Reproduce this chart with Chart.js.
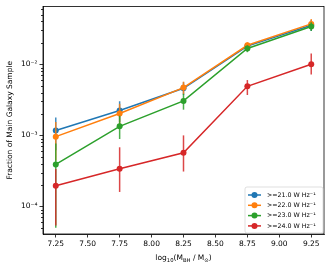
<!DOCTYPE html>
<html>
<head>
<meta charset="utf-8">
<script src="https://cdn.jsdelivr.net/npm/chart.js@4.4.1/dist/chart.umd.min.js"></script>
<style>
  html, body { margin: 0; padding: 0; background: #fff; }
  #wrap { width: 332px; height: 268px; position: relative; }
</style>
</head>
<body>
<div id="wrap"><canvas id="fracChart" width="332" height="268"></canvas></div>
<script>
//========================
// Data
//========================
const massBins = [7.25, 7.75, 8.25, 8.75, 9.25];
const xTicks = [7.25, 7.5, 7.75, 8.0, 8.25, 8.5, 8.75, 9.0, 9.25];
const yTicks = [1e-4, 1e-3, 1e-2];
const yTickLabels = ['10⁻⁴', '10⁻³', '10⁻²'];

const seriesLabels = ['>=21.0 W Hz⁻¹', '>=22.0 W Hz⁻¹', '>=23.0 W Hz⁻¹', '>=24.0 W Hz⁻¹'];
const seriesColors = ['#1f77b4', '#ff7f0e', '#2ca02c', '#d62728'];

const frac21 = [1.17e-3, 2.24e-3, 4.6e-3, 0.0180, 0.0355];
const frac22 = [9.6e-4, 2.03e-3, 4.7e-3, 0.0185, 0.0370];
const frac23 = [3.9e-4, 1.34e-3, 3.05e-3, 0.0167, 0.0340];
const frac24 = [1.96e-4, 3.4e-4, 5.7e-4, 4.9e-3, 0.0100];

const errHi21 = [6.1e-4, 7.8e-4, 1.0e-3, 1.9e-3, 6.5e-3];
const errLo21 = [5.5e-4, 7.0e-4, 0.9e-3, 1.8e-3, 6.0e-3];
const errHi22 = [5.8e-4, 7.5e-4, 1.0e-3, 1.9e-3, 6.5e-3];
const errLo22 = [5.2e-4, 6.8e-4, 0.9e-3, 1.8e-3, 6.0e-3];
const errHi23 = [3.8e-4, 5.5e-4, 8.0e-4, 1.8e-3, 5.0e-3];
const errLo23 = [3.4e-4, 4.5e-4, 7.5e-4, 1.9e-3, 4.5e-3];
const errHi24 = [1.4e-4, 3.4e-4, 4.3e-4, 1.1e-3, 4.2e-3];
const errLo24 = [1.42e-4, 1.8e-4, 2.6e-4, 1.2e-3, 2.8e-3];

const allFracs = [frac21, frac22, frac23, frac24];
const allHi = [errHi21, errHi22, errHi23, errHi24];
const allLo = [errLo21, errLo22, errLo23, errLo24];

const FONT = 'DejaVu Sans';

//========================
// Error bars (drawn just before each dataset's line)
//========================
const errorBars = {
  id: 'errorBars',
  beforeDatasetDraw(chart, args) {
    const i = args.index;
    const ctx = chart.ctx;
    const xs = chart.scales.x, ys = chart.scales.y;
    ctx.save();
    ctx.strokeStyle = seriesColors[i];
    ctx.globalAlpha = 0.85;
    ctx.lineWidth = 1.5;
    massBins.forEach((m, j) => {
      const v = allFracs[i][j];
      const px = xs.getPixelForValue(m);
      const top = Math.max(ys.getPixelForValue(v + allHi[i][j]), chart.chartArea.top);
      const lo = v - allLo[i][j];
      const bot = lo > 0 ? Math.min(ys.getPixelForValue(lo), chart.chartArea.bottom) : chart.chartArea.bottom;
      ctx.beginPath();
      ctx.moveTo(px, top);
      ctx.lineTo(px, bot);
      ctx.stroke();
    });
    ctx.restore();
  }
};

//========================
// Frame, minor ticks, titles, legend
//========================
const decor = {
  id: 'decor',
  afterDraw(chart) {
    const ctx = chart.ctx;
    const a = chart.chartArea;
    const ys = chart.scales.y;

    ctx.save();
    ctx.strokeStyle = '#000';
    ctx.lineWidth = 0.8;
    ctx.strokeRect(a.left, a.top, a.right - a.left, a.bottom - a.top);

    // minor log ticks
    for (let e = -5; e <= -1; e++) {
      for (let k = 2; k <= 9; k++) {
        const v = k * Math.pow(10, e);
        if (v < ys.min || v > ys.max) continue;
        const py = Math.round(ys.getPixelForValue(v)) + 0.5;
        ctx.beginPath();
        ctx.moveTo(a.left - 2, py);
        ctx.lineTo(a.left, py);
        ctx.stroke();
      }
    }

    // y title
    ctx.fillStyle = '#000';
    ctx.font = '7.5px "' + FONT + '"';
    ctx.textAlign = 'center';
    ctx.textBaseline = 'middle';
    ctx.translate(10, (a.top + a.bottom) / 2);
    ctx.rotate(-Math.PI / 2);
    ctx.fillText('Fraction of Main Galaxy Sample', 0, 0);
    ctx.restore();

    // x title with subscripts: log10(M_BH / M_sun)
    ctx.save();
    ctx.fillStyle = '#000';
    ctx.textBaseline = 'alphabetic';
    const big = '7.5px "' + FONT + '"';
    const small = '5.3px "' + FONT + '"';
    const parts = [
      ['log', big, 0], ['10', small, 1.8], ['(M', big, 0], ['BH', small, 1.8],
      [' / M', big, 0], ['⊙', small, 1.8], [')', big, 0]
    ];
    let w = 0;
    parts.forEach(p => { ctx.font = p[1]; w += ctx.measureText(p[0]).width; });
    let x = (a.left + a.right) / 2 - w / 2;
    const base = 260;
    parts.forEach(p => {
      ctx.font = p[1];
      ctx.fillText(p[0], x, base + p[2]);
      x += ctx.measureText(p[0]).width;
    });
    ctx.restore();

    // legend
    ctx.save();
    const lx = 245, ly = 187, lw = 78, lh = 46;
    ctx.globalAlpha = 0.8;
    ctx.fillStyle = '#fff';
    ctx.strokeStyle = '#ccc';
    ctx.lineWidth = 0.8;
    ctx.beginPath();
    ctx.roundRect(lx, ly, lw, lh, 2);
    ctx.fill();
    ctx.stroke();
    ctx.globalAlpha = 1;
    ctx.font = '6.3px "' + FONT + '"';
    ctx.textBaseline = 'middle';
    ctx.textAlign = 'left';
    seriesLabels.forEach((lab, i) => {
      const cy = ly + 8 + i * 10.3;
      ctx.strokeStyle = seriesColors[i];
      ctx.fillStyle = seriesColors[i];
      ctx.lineWidth = 1.5;
      ctx.beginPath();
      ctx.moveTo(lx + 3, cy);
      ctx.lineTo(lx + 16, cy);
      ctx.stroke();
      ctx.beginPath();
      ctx.arc(lx + 9.5, cy, 3, 0, Math.PI * 2);
      ctx.fill();
      ctx.fillStyle = '#000';
      ctx.fillText(lab, lx + 22, cy);
    });
    ctx.restore();
  }
};

//========================
// Chart
//========================
document.addEventListener('DOMContentLoaded', function () {
  const ctx = document.getElementById('fracChart').getContext('2d');

  const datasets = allFracs.map((arr, i) => ({
    label: seriesLabels[i],
    data: massBins.map((m, j) => ({ x: m, y: arr[j] })),
    borderColor: seriesColors[i],
    backgroundColor: seriesColors[i],
    borderWidth: 1.5,
    pointRadius: 3,
    pointBorderWidth: 0,
    pointHoverRadius: 3,
    tension: 0,
    order: 4 - i
  }));

  new Chart(ctx, {
    type: 'line',
    data: { datasets },
    plugins: [errorBars, decor],
    options: {
      responsive: false,
      animation: false,
      layout: { padding: { left: 0, right: 8, top: 5, bottom: 0 } },
      plugins: { legend: { display: false }, tooltip: { enabled: false } },
      scales: {
        x: {
          type: 'linear',
          min: 7.15,
          max: 9.35,
          bounds: 'data',
          afterBuildTicks: s => { s.ticks = xTicks.map(v => ({ value: v })); },
          afterFit: s => { s.height = 34; },
          ticks: {
            color: '#000',
            font: { family: FONT, size: 7.5 },
            padding: 2,
            maxRotation: 0,
            autoSkip: false,
            callback: v => Number(v).toFixed(2)
          },
          grid: { drawOnChartArea: false, drawTicks: true, tickLength: 3.5, color: '#000', lineWidth: 0.8 },
          border: { color: '#000', width: 0.8 }
        },
        y: {
          type: 'logarithmic',
          min: 4.1e-5,
          max: 0.065,
          bounds: 'data',
          afterBuildTicks: s => { s.ticks = yTicks.map(v => ({ value: v })); },
          afterFit: s => { s.width = 43; },
          ticks: {
            color: '#000',
            font: { family: FONT, size: 7.5 },
            padding: 2,
            autoSkip: false,
            callback: v => yTickLabels[yTicks.findIndex(t => Math.abs(t - v) / t < 1e-6)] || ''
          },
          grid: { drawOnChartArea: false, drawTicks: true, tickLength: 3.5, color: '#000', lineWidth: 0.8 },
          border: { color: '#000', width: 0.8 }
        }
      }
    }
  });
});
</script>
</body>
</html>
